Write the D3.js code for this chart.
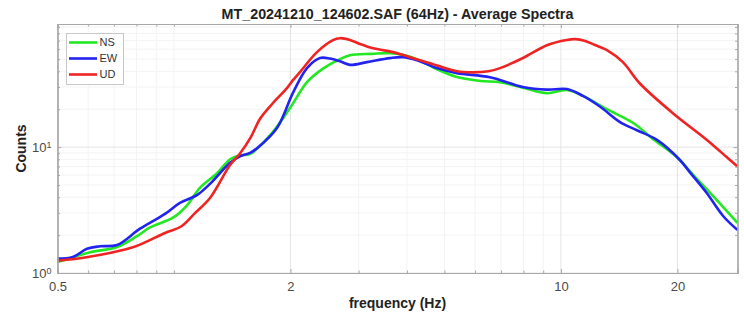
<!DOCTYPE html>
<html>
<head>
<meta charset="utf-8">
<script src="https://cdn.jsdelivr.net/npm/d3@7"></script>
<style>
  html, body { margin: 0; padding: 0; background: #fff; }
  svg { display: block; font-family: "Liberation Sans", Arial, Helvetica, sans-serif; }
</style>
</head>
<body>
<svg id="chart" width="744" height="320"></svg>
<script>
// Average spectra per component: [frequency Hz, counts]
const nsData = [
  [0.5, 1.22], [0.548, 1.33], [0.607, 1.46], [0.713, 1.61], [0.80, 1.95], [0.867, 2.30],
  [0.994, 2.75], [1.081, 3.45], [1.167, 4.75], [1.292, 6.2], [1.396, 8.0], [1.481, 8.6],
  [1.572, 8.8], [1.771, 12.4], [1.994, 20.4], [2.207, 32.8], [2.427, 42.0], [2.685, 50.0],
  [2.85, 53.7], [3.25, 55.0], [3.616, 55.7], [3.906, 54.0], [4.3, 49.0], [4.782, 41.5],
  [5.387, 36.0], [6.2, 33.5], [6.957, 32.8], [7.976, 29.6], [9.203, 26.8], [10.36, 28.4],
  [11.4, 25.5], [13.15, 20.0], [15.35, 15.6], [17.29, 11.6], [19.94, 8.3], [22.0, 6.0],
  [24.71, 4.1], [28.6, 2.5]
];
const ewData = [
  [0.5, 1.30], [0.548, 1.34], [0.596, 1.56], [0.644, 1.63], [0.713, 1.67], [0.817, 2.25],
  [0.948, 2.95], [1.036, 3.60], [1.146, 4.15], [1.239, 5.1], [1.396, 7.5], [1.481, 8.45],
  [1.572, 9.0], [1.639, 9.8], [1.846, 14.2], [2.03, 27.0], [2.207, 42.4], [2.384, 51.0],
  [2.53, 50.5], [2.685, 48.0], [2.85, 45.0], [3.153, 47.3], [3.616, 50.9], [3.906, 51.8],
  [4.245, 49.0], [4.782, 42.4], [5.387, 38.7], [6.555, 35.9], [7.976, 30.0], [9.203, 28.6],
  [10.36, 28.9], [11.4, 25.5], [12.61, 21.0], [14.21, 15.8], [15.72, 13.6], [17.71, 11.4],
  [20.3, 7.9], [21.55, 6.3], [23.84, 4.3], [26.22, 2.85], [28.6, 2.2]
];
const udData = [
  [0.5, 1.25], [0.599, 1.34], [0.783, 1.60], [0.948, 2.08], [1.046, 2.35], [1.133, 2.99],
  [1.239, 3.94], [1.396, 7.2], [1.481, 8.9], [1.58, 12.0], [1.669, 16.8], [1.80, 22.3],
  [1.959, 29.4], [2.03, 34.0], [2.116, 39.4], [2.342, 56.8], [2.576, 70.7], [2.685, 73.3],
  [2.85, 71.0], [3.025, 66.0], [3.153, 63.0], [3.4, 59.5], [3.68, 56.8], [4.07, 51.8],
  [4.59, 46.4], [5.39, 40.0], [5.9, 39.2], [6.5, 40.0], [6.96, 42.4], [7.98, 51.0],
  [9.2, 64.5], [10.36, 71.0], [10.9, 72.0], [11.5, 70.0], [12.2, 65.0], [13.15, 58.9],
  [14.46, 47.3], [16.0, 32.0], [19.47, 18.6], [23.84, 11.4], [26.85, 8.3], [28.6, 7.0]
];

const seriesNames = ["NS", "EW", "UD"];
const seriesColors = ["#22e822", "#2323f0", "#f02323"];
const seriesData = [nsData, ewData, udData];

const xTickValues = [0.5, 2, 10, 20];
const xMinorValues = [0.6, 0.7, 0.8, 0.9, 1, 3, 4, 5, 6, 7, 8, 9];
const yTickValues = [1, 10];
const yMinorValues = [2, 3, 4, 5, 6, 7, 8, 9, 20, 30, 40, 50, 60, 70, 80, 90];

const titleText = "MT_20241210_124602.SAF (64Hz) - Average Spectra";
const xLabel = "frequency (Hz)";
const yLabel = "Counts";

const W = 744, H = 320;
const margin = { left: 57.5, right: 6.5, top: 24, bottom: 47 };
const iw = W - margin.left - margin.right;
const ih = H - margin.top - margin.bottom;

const svg = d3.select("#chart");
const g = svg.append("g").attr("transform", `translate(${margin.left},${margin.top})`);

const x = d3.scaleLog().domain([0.5, 28.6]).range([0, iw]);
const y = d3.scaleLog().domain([1, 95]).range([ih, 0]);

// grid lines
const grid = g.append("g");
grid.selectAll(".xminor").data(xMinorValues).join("line")
  .attr("x1", d => x(d)).attr("x2", d => x(d)).attr("y1", 0).attr("y2", ih)
  .attr("stroke", "#f3f3f3").attr("stroke-width", 1);
grid.selectAll(".yminor").data(yMinorValues.filter(v => v < 95)).join("line")
  .attr("y1", d => y(d)).attr("y2", d => y(d)).attr("x1", 0).attr("x2", iw)
  .attr("stroke", "#f3f3f3").attr("stroke-width", 1);
grid.selectAll(".xmajor").data(xTickValues).join("line")
  .attr("x1", d => x(d)).attr("x2", d => x(d)).attr("y1", 0).attr("y2", ih)
  .attr("stroke", "#e4e4e4").attr("stroke-width", 1);
grid.selectAll(".ymajor").data(yTickValues).join("line")
  .attr("y1", d => y(d)).attr("y2", d => y(d)).attr("x1", 0).attr("x2", iw)
  .attr("stroke", "#e4e4e4").attr("stroke-width", 1);

// spectra
const line = d3.line()
  .x(d => x(d[0])).y(d => y(d[1]))
  .curve(d3.curveCatmullRom.alpha(0.5));

seriesData.forEach((data, i) => {
  g.append("path").datum(data)
    .attr("fill", "none")
    .attr("stroke", seriesColors[i])
    .attr("stroke-width", 2.6)
    .attr("stroke-linejoin", "round")
    .attr("d", line);
});

// axes with inward ticks on all four sides
const axisColor = "#a8a8a8";
function styleAxis(sel) {
  sel.select(".domain").attr("stroke", axisColor).attr("stroke-width", 1.2);
  sel.selectAll(".tick line").attr("stroke", axisColor);
  sel.selectAll(".tick text").attr("fill", "#4a4a4a").style("font-size", "13px");
}

const xAxis = g.append("g").attr("transform", `translate(0,${ih})`)
  .call(d3.axisBottom(x).tickValues(xTickValues).tickSize(-4).tickPadding(9)
    .tickFormat(d3.format("")));
styleAxis(xAxis);
const xAxisMinor = g.append("g").attr("transform", `translate(0,${ih})`)
  .call(d3.axisBottom(x).tickValues(xMinorValues).tickSize(-2.5).tickFormat(""));
styleAxis(xAxisMinor);
const xTop = g.append("g")
  .call(d3.axisTop(x).tickValues(xTickValues).tickSize(-4).tickFormat(""));
styleAxis(xTop);
const xTopMinor = g.append("g")
  .call(d3.axisTop(x).tickValues(xMinorValues).tickSize(-2.5).tickFormat(""));
styleAxis(xTopMinor);

const yAxis = g.append("g")
  .call(d3.axisLeft(y).tickValues(yTickValues).tickSize(-4).tickFormat(""));
styleAxis(yAxis);
const yAxisMinor = g.append("g")
  .call(d3.axisLeft(y).tickValues(yMinorValues.filter(v => v < 95)).tickSize(-2.5).tickFormat(""));
styleAxis(yAxisMinor);
const yRight = g.append("g").attr("transform", `translate(${iw},0)`)
  .call(d3.axisRight(y).tickValues(yTickValues).tickSize(-4).tickFormat(""));
styleAxis(yRight);
const yRightMinor = g.append("g").attr("transform", `translate(${iw},0)`)
  .call(d3.axisRight(y).tickValues(yMinorValues.filter(v => v < 95)).tickSize(-2.5).tickFormat(""));
styleAxis(yRightMinor);

// y tick labels as 10^n with superscript exponent
yAxis.selectAll(".tick").each(function(d) {
  const t = d3.select(this).append("text")
    .attr("x", -6).attr("dy", "0.35em")
    .attr("text-anchor", "end")
    .attr("fill", "#4a4a4a").style("font-size", "13px");
  t.append("tspan").text("10");
  t.append("tspan").attr("dy", "-0.5em").style("font-size", "9px")
    .text(String(Math.round(Math.log10(d))));
});

// title and axis labels
svg.append("text")
  .attr("x", margin.left + iw / 2).attr("y", 19)
  .attr("text-anchor", "middle")
  .style("font-size", "14.3px").style("font-weight", "bold").attr("fill", "#222")
  .text(titleText);
svg.append("text")
  .attr("x", margin.left + iw / 2).attr("y", 308)
  .attr("text-anchor", "middle")
  .style("font-size", "14px").style("font-weight", "bold").attr("fill", "#222")
  .text(xLabel);
svg.append("text")
  .attr("transform", `translate(26,${margin.top + ih / 2}) rotate(-90)`)
  .attr("text-anchor", "middle")
  .style("font-size", "14px").style("font-weight", "bold").attr("fill", "#222")
  .text(yLabel);

// legend
const lg = svg.append("g").attr("transform", "translate(66.5,33.5)");
lg.append("rect").attr("width", 57).attr("height", 51)
  .attr("fill", "#fff").attr("stroke", "#c8c8c8").attr("stroke-width", 1);
seriesNames.forEach((name, i) => {
  const yy = 9 + i * 16;
  lg.append("line").attr("x1", 2.5).attr("x2", 30.5).attr("y1", yy).attr("y2", yy)
    .attr("stroke", seriesColors[i]).attr("stroke-width", 2.6);
  lg.append("text").attr("x", 33).attr("y", yy).attr("dy", "0.36em")
    .style("font-size", "11px").attr("fill", "#333").text(name);
});
</script>
</body>
</html>
